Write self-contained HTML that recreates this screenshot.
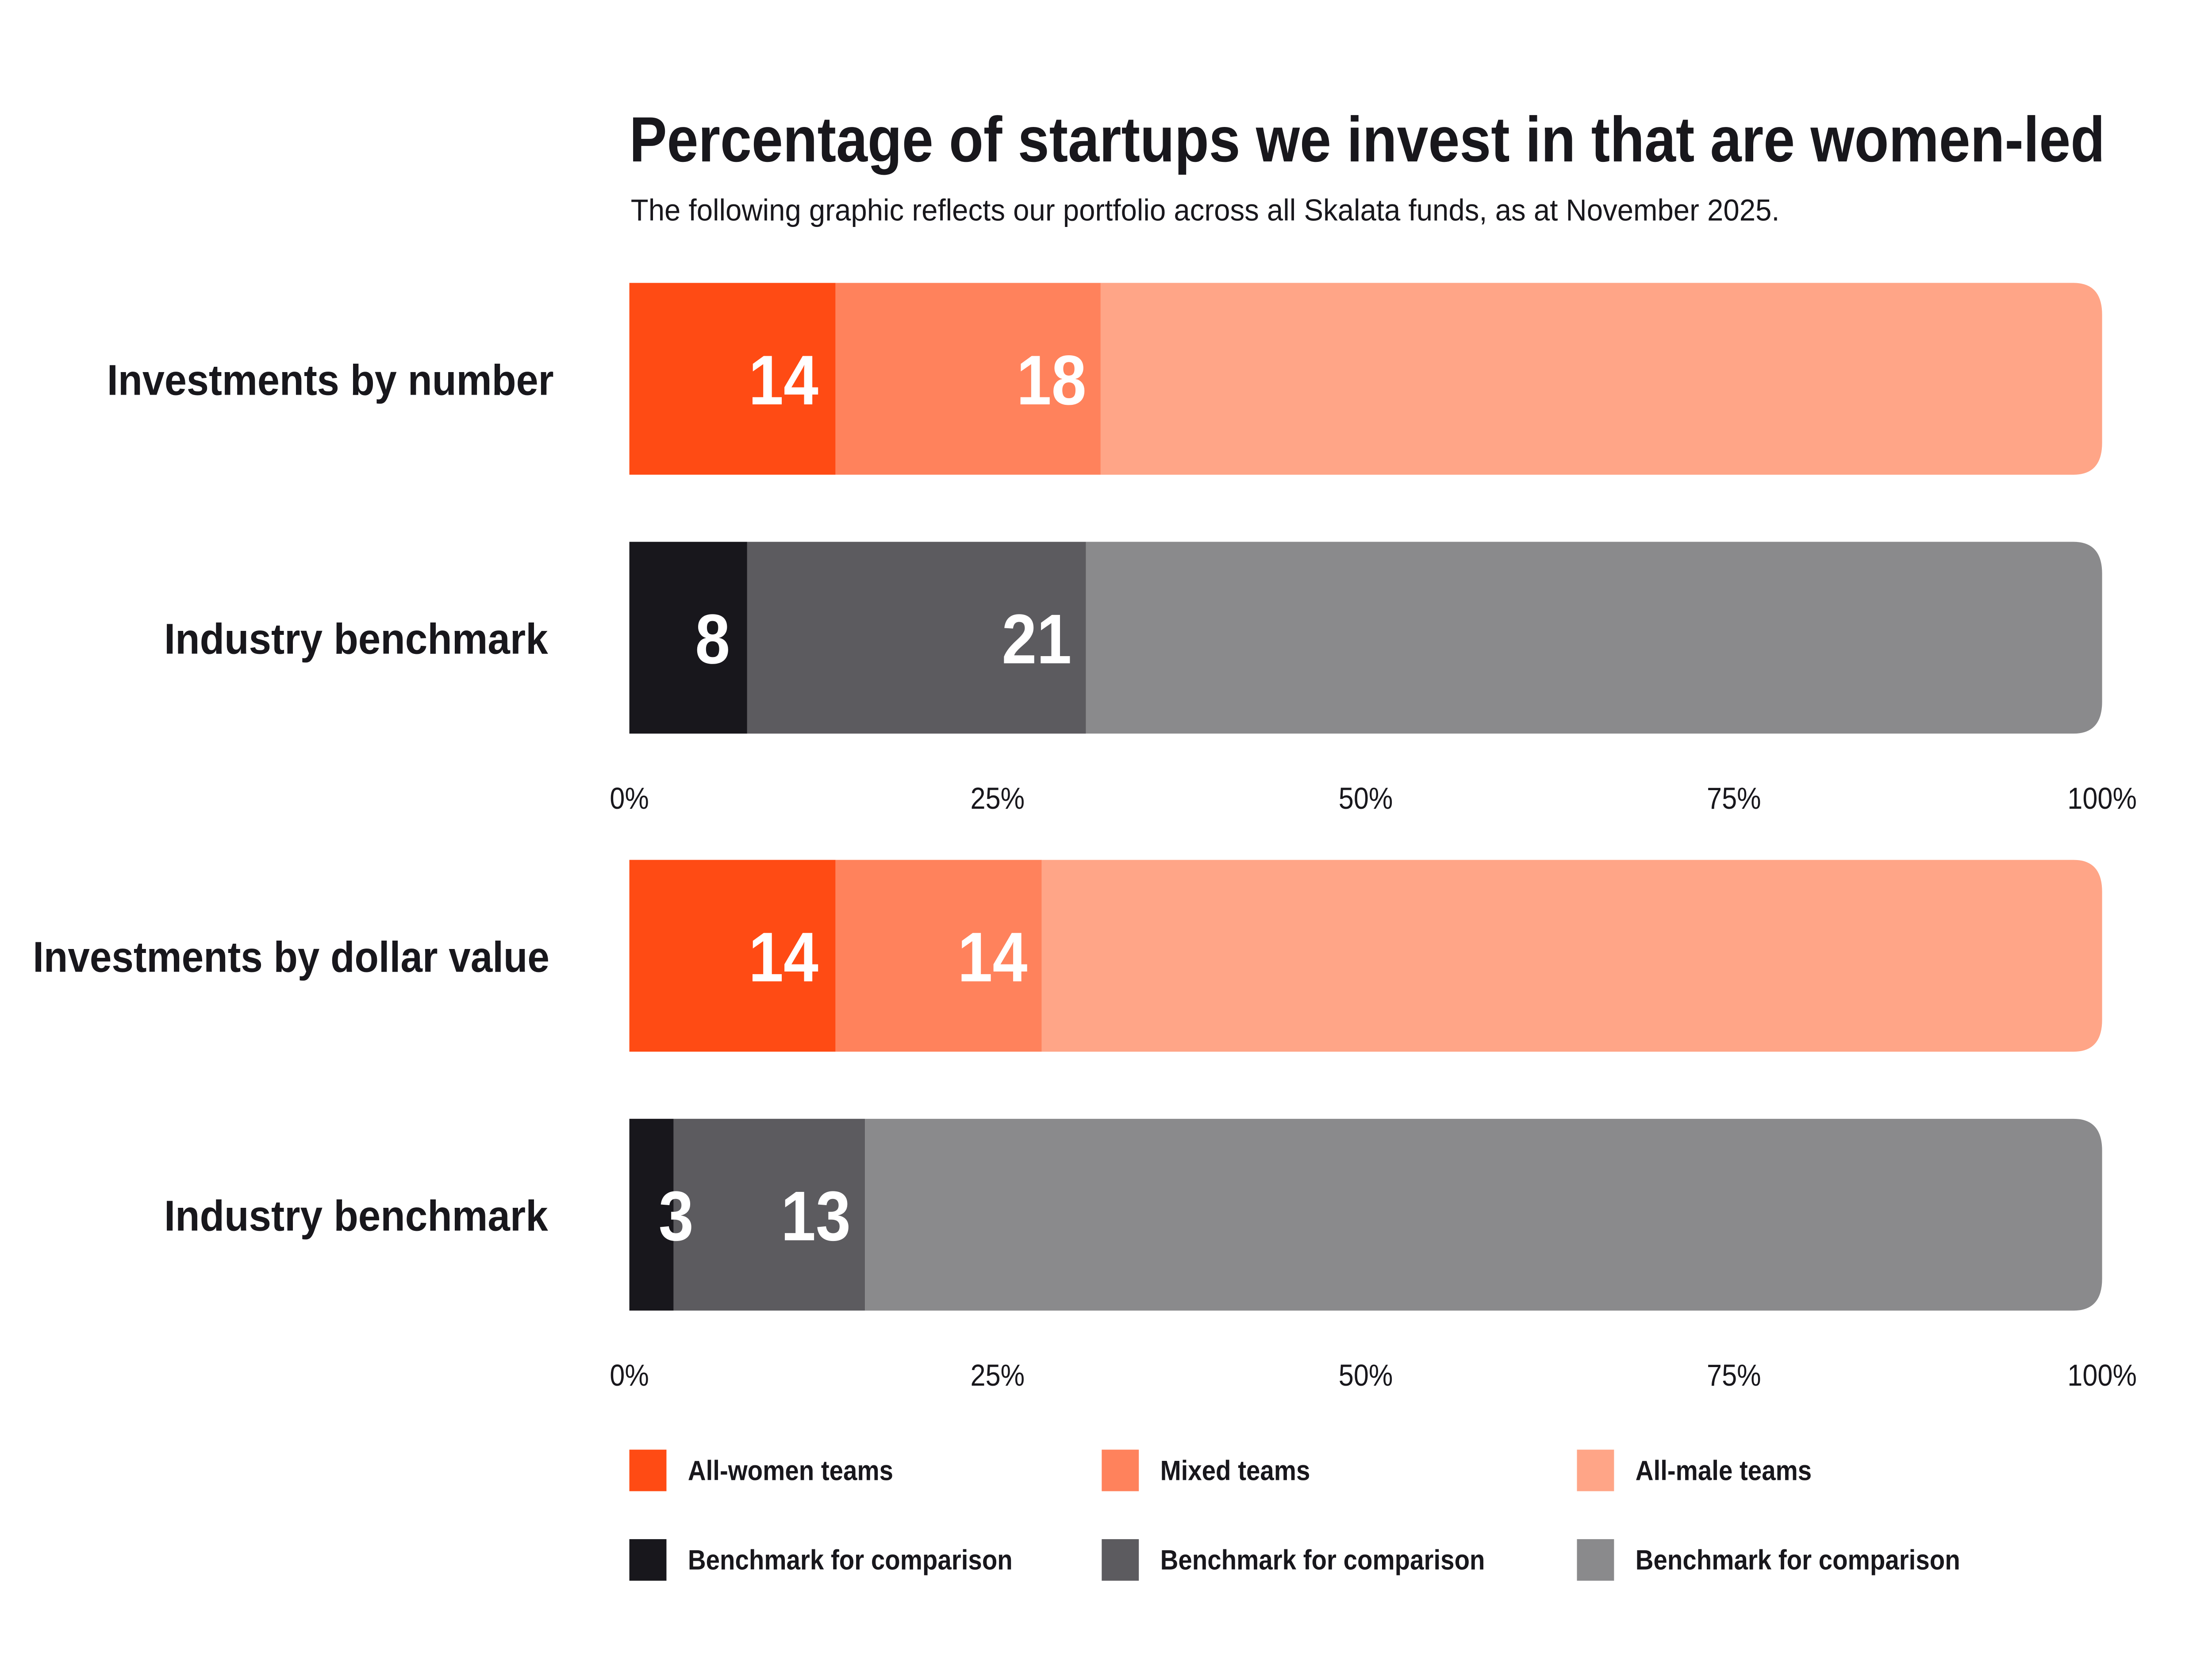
<!DOCTYPE html>
<html><head><meta charset="utf-8"><style>
html,body{margin:0;padding:0;background:#fff;overflow:hidden;}
svg{display:block;width:100vw;height:100vh;}
text{font-family:"Liberation Sans",sans-serif;fill:#18171C;}
</style></head><body>
<svg id="chart" xmlns="http://www.w3.org/2000/svg" viewBox="0 0 1550 1048" preserveAspectRatio="none">
<rect x="0" y="0" width="1550" height="1048" fill="#fff"/>
<text x="441" y="101" font-size="40" font-weight="bold" textLength="1034" lengthAdjust="spacingAndGlyphs">Percentage of startups we invest in that are women-led</text>
<text x="442" y="138" font-size="19" textLength="805" lengthAdjust="spacingAndGlyphs">The following graphic reflects our portfolio across all Skalata funds, as at November 2025.</text>
<g id="bars"></g>
<g id="axes"></g>
<g id="legend"></g>
</svg>
<script>
const categories = ["Investments by number","Industry benchmark","Investments by dollar value","Industry benchmark"];
const womenValues = [14, 8, 14, 3];
const mixedValues = [18, 23, 14, 13];
const womenLabels = ["14","8","14","3"];
const mixedLabels = ["18","21","14","13"];
const tickValues = [0, 25, 50, 75, 100];
const tickLabels = ["0%","25%","50%","75%","100%"];
const legendLabels = ["All-women teams","Mixed teams","All-male teams","Benchmark for comparison","Benchmark for comparison","Benchmark for comparison"];

const NS = "http://www.w3.org/2000/svg";
const X0 = 441, X1 = 1473, BH = 120, R = 20;
const rowTops = [177, 339, 538, 700];
const axisYs = [499, 860];
const labelRight = [388, 384, 385, 384];
const labelStart = [75, 115, 23, 115];
const palettes = [["#FF4B14","#FF825C","#FFA587"],["#18171C","#5C5B5F","#8A8A8C"]];
function xs(v){ return X0 + (X1 - X0) * v / 100; }
function el(tag, attrs, parent){ const e = document.createElementNS(NS, tag); for (const k in attrs) e.setAttribute(k, attrs[k]); parent.appendChild(e); return e; }

const bars = document.getElementById('bars');
categories.forEach((cat, i) => {
  const y = rowTops[i];
  const pal = palettes[i % 2];
  const lab = el('text', {x: labelStart[i], y: y + BH/2 + 10, 'font-size': 27, 'font-weight': 'bold', textLength: labelRight[i] - labelStart[i], lengthAdjust: 'spacingAndGlyphs'}, bars);
  lab.textContent = cat;
  
  
  const xa = xs(womenValues[i]), xb = xs(womenValues[i] + mixedValues[i]), xe = xs(100);
  const d = `M${xb},${y} H${xe - R} Q${xe},${y} ${xe},${y + R} V${y + BH - R} Q${xe},${y + BH} ${xe - R},${y + BH} H${xb} Z`;
  const rest = el('path', {d: d, fill: pal[2]}, bars);
  
  
  const s1 = el('rect', {x: xs(0), y: y, width: xa - xs(0), height: BH, fill: pal[0]}, bars);
  
  
  const s2 = el('rect', {x: xa, y: y, width: xb - xa, height: BH, fill: pal[1]}, bars);
  
  
  const t1 = el('text', {x: Math.max(xa - 12, X0 + 45), y: y + BH/2 + 16, 'font-size': 44, 'font-weight': 'bold', 'text-anchor': 'end', style: 'fill:#fff'}, bars);
  t1.textContent = womenLabels[i];
  
  
  const t2 = el('text', {x: Math.max(xb - 10, xa + 45), y: y + BH/2 + 16, 'font-size': 44, 'font-weight': 'bold', 'text-anchor': 'end', style: 'fill:#fff'}, bars);
  t2.textContent = mixedLabels[i];
  
  
});

const axes = document.getElementById('axes');
axisYs.forEach(ay => {
  tickValues.forEach((v, j) => {
    const t = el('text', {x: xs(v), y: ay + 7, 'font-size': 19, 'text-anchor': 'middle'}, axes);
    t.textContent = tickLabels[j];
    
    
  });
});

const legend = document.getElementById('legend');
const lx = [441, 772, 1105], ly = [907, 963];
legendLabels.forEach((txt, k) => {
  const col = k % 3, row = Math.floor(k / 3);
  const sw = el('rect', {x: lx[col], y: ly[row], width: 26, height: 26, fill: palettes[row][col]}, legend);
  
  
  const t = el('text', {x: lx[col] + 41, y: ly[row] + 19, 'font-size': 17.5, 'font-weight': 'bold'}, legend);
  t.textContent = txt;
  
  
});
</script>
</body></html>
